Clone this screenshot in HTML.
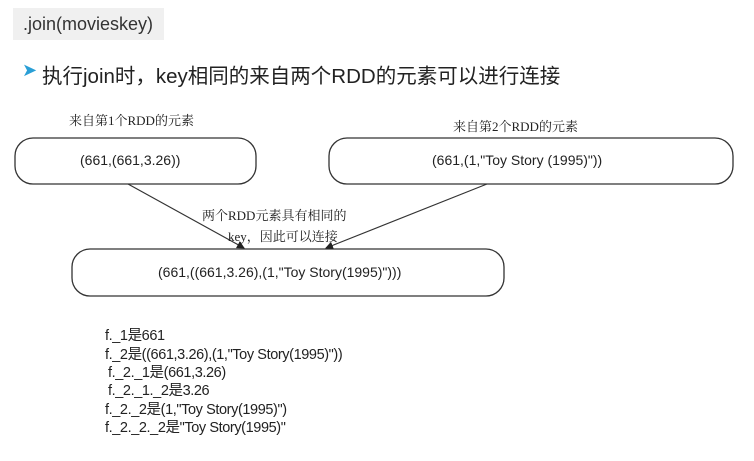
<!DOCTYPE html>
<html><head><meta charset="utf-8"><style>
body{margin:0;width:754px;height:461px;background:#fff;position:relative;overflow:hidden;font-family:"Liberation Sans","Noto Sans CJK SC",sans-serif;color:#222}
.a{position:absolute;white-space:nowrap}
.t{left:13px;top:8px;width:151px;height:32px;background:#f0f0f0;font-size:18px;line-height:32px;padding-left:10px;box-sizing:border-box;color:#333}
.s{font-family:"Liberation Serif","Noto Serif CJK SC",serif;font-size:13px}
.l{font-size:14.5px;left:105px;letter-spacing:-0.4px}
</style></head><body>
<div class="a t">.join(movieskey)</div>
<div class="a" style="left:22px;top:60px;font-size:18px;color:#2a9fd6">➤</div>
<div class="a" style="left:42px;top:59px;font-size:20.5px;color:#222">执行join时，key相同的来自两个RDD的元素可以进行连接</div>
<svg class="a" style="left:0;top:0" width="754" height="461">
<defs><marker id="m" markerWidth="8" markerHeight="8" refX="7" refY="4" orient="auto" markerUnits="userSpaceOnUse"><path d="M0,0L8,4L0,8z" fill="#222"/></marker></defs>
<g fill="#fff" stroke="#333" stroke-width="1.3">
<rect x="15" y="138" width="241" height="46" rx="18"/>
<rect x="329" y="138" width="404" height="46" rx="18"/>
<rect x="72" y="249" width="432" height="47" rx="18"/>
</g>
<g stroke="#333" stroke-width="1.2" marker-end="url(#m)">
<line x1="128" y1="184" x2="244" y2="248"/>
<line x1="487" y1="184" x2="326" y2="248"/>
</g>
</svg>
<div class="a s" style="left:69px;top:110px">来自第1个RDD的元素</div>
<div class="a s" style="left:453px;top:116px">来自第2个RDD的元素</div>
<div class="a" style="left:80px;top:152px;font-size:14px">(661,(661,3.26))</div>
<div class="a" style="left:432px;top:152px;font-size:14px">(661,(1,"Toy Story (1995)"))</div>
<div class="a s" style="left:202px;top:205px">两个RDD元素具有相同的</div>
<div class="a s" style="left:228px;top:226px">key，因此可以连接</div>
<div class="a" style="left:158px;top:264px;font-size:14px">(661,((661,3.26),(1,"Toy Story(1995)")))</div>
<div class="a l" style="top:324px">f._1是661</div>
<div class="a l" style="top:343px">f._2是((661,3.26),(1,"Toy Story(1995)"))</div>
<div class="a l" style="top:361px;left:108px">f._2._1是(661,3.26)</div>
<div class="a l" style="top:379px;left:108px">f._2._1._2是3.26</div>
<div class="a l" style="top:398px">f._2._2是(1,"Toy Story(1995)")</div>
<div class="a l" style="top:416px">f._2._2._2是"Toy Story(1995)"</div>
</body></html>
